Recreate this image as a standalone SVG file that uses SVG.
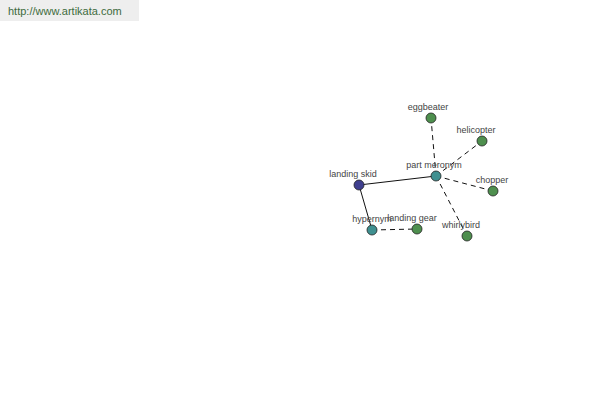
<svg xmlns="http://www.w3.org/2000/svg" width="600" height="400" viewBox="0 0 600 400">
<style>
text{font-family:"Liberation Sans",Arial,sans-serif;}
.lbl{font-size:9px;fill:#444;text-anchor:middle;}
.n circle{stroke:#222;stroke-width:0.8;}
.g{fill:#4e8f4e;}
.t{fill:#3f9090;}
.b{fill:#3f3f8f;}
.solid{stroke:#111;stroke-width:1;fill:none;}
.dash{stroke:#111;stroke-width:1;fill:none;stroke-dasharray:5,4;}
</style>
<rect x="0" y="0" width="600" height="400" fill="#fff"/>
<rect x="0" y="0" width="139" height="21" fill="#eeeeee"/>
<text x="8" y="15" font-size="11" fill="#3d6b3d">http://www.artikata.com</text>
<g id="connectors">
<line class="solid" x1="359" y1="185" x2="436" y2="176"/>
<line class="solid" x1="359" y1="185" x2="372" y2="230"/>
<line class="dash" x1="436" y1="176" x2="431" y2="118"/>
<line class="dash" x1="436" y1="176" x2="482" y2="141"/>
<line class="dash" x1="436" y1="176" x2="493" y2="191"/>
<line class="dash" x1="436" y1="176" x2="467" y2="236"/>
<line class="dash" x1="372" y1="230" x2="417" y2="229"/>
</g>
<g id="eggbeater" class="n"><circle class="g" cx="431" cy="118" r="5"/><text class="lbl" x="428" y="110">eggbeater</text></g>
<g id="helicopter" class="n"><circle class="g" cx="482" cy="141" r="5"/><text class="lbl" x="476" y="133">helicopter</text></g>
<g id="chopper" class="n"><circle class="g" cx="493" cy="191" r="5"/><text class="lbl" x="492" y="183">chopper</text></g>
<g id="whirlybird" class="n"><circle class="g" cx="467" cy="236" r="5"/><text class="lbl" x="461" y="228">whirlybird</text></g>
<g id="landing-gear" class="n"><circle class="g" cx="417" cy="229" r="5"/><text class="lbl" x="412" y="221">landing gear</text></g>
<g id="part-meronym" class="n"><circle class="t" cx="436" cy="176" r="5"/><text class="lbl" x="434" y="168">part meronym</text></g>
<g id="hypernym" class="n"><circle class="t" cx="372" cy="230" r="5"/><text class="lbl" x="372" y="222">hypernym</text></g>
<g id="landing-skid" class="n"><circle class="b" cx="359" cy="185" r="5"/><text class="lbl" x="353" y="177">landing skid</text></g>
</svg>
